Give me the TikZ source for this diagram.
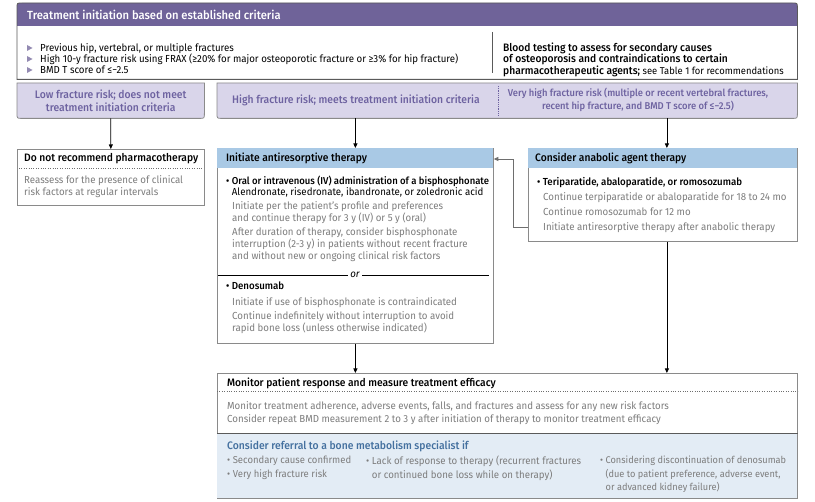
\documentclass[tikz,border=0pt]{standalone}
\usepackage{fontspec}
\setmainfont{Fira Sans}[FakeStretch=0.95]
\newfontfamily\medfont{Fira Sans Medium}[FakeStretch=0.95]
\usetikzlibrary{arrows.meta}
\definecolor{critpurple}{HTML}{6F6399}
\definecolor{critgray}{HTML}{5A5A5A}
\definecolor{riskfill}{HTML}{D9D5EA}
\definecolor{risktext}{HTML}{6D62A0}
\definecolor{boxgray}{HTML}{8A8A8A}
\definecolor{linegray}{HTML}{6E6E6E}
\definecolor{textgray}{HTML}{7D7D7D}
\definecolor{hdrblue}{HTML}{A9C9E5}
\definecolor{lightblue}{HTML}{E3ECF5}
\definecolor{referblue}{HTML}{44709F}

\begin{document}
\begin{tikzpicture}[x=1pt, y=-1pt,
    box/.style={anchor=north west, inner sep=0pt, draw=boxgray, fill=white, line width=0.8pt},
    body/.style={anchor=north west, inner sep=0pt, align=left, text=textgray, font=\fontsize{10.2}{12}\selectfont},
    dark/.style={body, text=black},
    head/.style={anchor=west, inner sep=0pt, font=\medfont\fontsize{10.8}{12}\selectfont},
    risk/.style={inner sep=0pt, text=risktext, font=\medfont\fontsize{10.9}{13}\selectfont},
    riskbox/.style={draw=boxgray, fill=riskfill, line width=0.8pt},
    tip/.style={-{Triangle[length=4.5pt, width=4pt]}, line width=0.8pt}
]
    \useasboundingbox[fill=white] (0,0) rectangle (815,502);

    \node[anchor=north west, inner sep=0pt, minimum width=780pt, minimum height=76pt] (crit) at (17,3) {};
    \fill[critpurple] ([yshift=-23pt]crit.north west) -- ([yshift=-5pt]crit.north west)
        .. controls (crit.north west) .. ([xshift=5pt]crit.north west)
        -- ([xshift=-5pt]crit.north east) .. controls (crit.north east) .. ([yshift=-5pt]crit.north east)
        -- ([yshift=-23pt]crit.north east) -- cycle;
    \draw[critgray, line width=0.8pt] (crit.south west) -- ([yshift=-5pt]crit.north west)
        .. controls (crit.north west) .. ([xshift=5pt]crit.north west)
        -- ([xshift=-5pt]crit.north east) .. controls (crit.north east) .. ([yshift=-5pt]crit.north east)
        -- (crit.south east) -- cycle;
    \node[head, text=white, font=\medfont\fontsize{11.8}{12}\selectfont] (crithead) at (27,14.5) {Treatment initiation based on established criteria};
    \foreach \y in {48,59,70}
        \fill[critpurple!75] (27,\y-3) -- (27,\y+3) -- (32.5,\y) -- cycle;
    \node[dark, font=\fontsize{10.2}{11}\selectfont] (critlist) at (40,43) {Previous hip, vertebral, or multiple fractures\\High 10-y fracture risk using FRAX (≥20\% for major osteoporotic fracture or ≥3\% for hip fracture)\\BMD T score of ≤−2.5};
    \draw[critgray, line width=0.8pt] (492,32) -- (492,73);
    \node[dark, font=\medfont\fontsize{10.8}{11.5}\selectfont] (blood) at (503,42.5) {Blood testing to assess for secondary causes\\of osteoporosis and contraindications to certain\\pharmacotherapeutic agents; {\normalfont\fontsize{9.9}{11}\selectfont see Table 1 for recommendations}};

    \node[anchor=north west, inner sep=0pt, minimum width=187pt, minimum height=35pt] (low) at (17,83) {};
    \node[anchor=north west, inner sep=0pt, minimum width=580pt, minimum height=35pt] (high) at (217,83) {};
    \draw[riskbox] (low.north west) -- (low.north east) -- ([yshift=5pt]low.south east)
        .. controls (low.south east) .. ([xshift=-5pt]low.south east)
        -- ([xshift=5pt]low.south west) .. controls (low.south west) .. ([yshift=5pt]low.south west) -- cycle;
    \draw[riskbox] (high.north west) -- (high.north east) -- ([yshift=5pt]high.south east)
        .. controls (high.south east) .. ([xshift=-5pt]high.south east)
        -- ([xshift=5pt]high.south west) .. controls (high.south west) .. ([yshift=5pt]high.south west) -- cycle;
    \draw[risktext, densely dotted, line width=0.8pt] (498,86) -- (498,116);
    \node[risk, align=center] (lowlbl) at (low.center) {Low fracture risk; does not meet\\treatment initiation criteria};
    \node[risk] (highlbl) at (356,100.5) {High fracture risk; meets treatment initiation criteria};
    \node[risk, align=center, font=\medfont\fontsize{9.9}{13}\selectfont] (vhighlbl) at (638,100) {Very high fracture risk (multiple or recent vertebral fractures,\\recent hip fracture, and BMD T score of ≤−2.5)};

    \node[box, minimum width=187pt, minimum height=56pt] (nopharm) at (17,149) {};
    \node[head] (nopharmhead) at (24,158.3) {Do not recommend pharmacotherapy};
    \draw[linegray, dotted] (19,168) -- (202,168);
    \node[body] (nopharmtext) at (24,175) {Reassess for the presence of clinical\\risk factors at regular intervals};

    \node[box, minimum width=276pt, minimum height=195pt] (antires) at (217,148) {};
    \fill[hdrblue] ([shift={(0.4pt,-0.4pt)}]antires.north west) rectangle ([shift={(-0.4pt,-20pt)}]antires.north east);
    \node[head] (antireshead) at (226,158.3) {Initiate antiresorptive therapy};
    \node[dark, font=\fontsize{10.2}{11}\selectfont] (bisph) at (226,176) {{\medfont\fontsize{10}{11}\selectfont •~Oral or intravenous (IV) administration of a bisphosphonate}\\\phantom{•~}Alendronate, risedronate, ibandronate, or zoledronic acid};
    \node[body] (bisphstart) at (232,201.5) {Initiate per the patient’s profile and preferences\\and continue therapy for 3 y (IV) or 5 y (oral)};
    \node[body] (bisphstop) at (232,227) {After duration of therapy, consider bisphosphonate\\interruption (2-3 y) in patients without recent fracture\\and without new or ongoing clinical risk factors};
    \draw[black, line width=0.6pt] (218,275) -- (489,275);
    \node[fill=white, inner sep=2pt, font=\itshape\fontsize{10.2}{12}\selectfont] (orlbl) at (355,274.5) {or};
    \node[dark] (deno) at (226,282) {\medfont •~Denosumab};
    \node[body] (denostart) at (232,297.5) {Initiate if use of bisphosphonate is contraindicated};
    \node[body] (denocont) at (232,311.5) {Continue indefinitely without interruption to avoid\\rapid bone loss (unless otherwise indicated)};

    \node[box, minimum width=269pt, minimum height=93pt] (anabolic) at (528,148) {};
    \fill[hdrblue] ([shift={(0.4pt,-0.4pt)}]anabolic.north west) rectangle ([shift={(-0.4pt,-20pt)}]anabolic.north east);
    \node[head] (anabolichead) at (535,158.3) {Consider anabolic agent therapy};
    \node[dark] (anaboliclist) at (537,177.5) {\medfont •~Teriparatide, abaloparatide, or romosozumab};
    \node[body, font=\fontsize{10.2}{14.8}\selectfont] (anabolicuse) at (543,192.7) {Continue terpiparatide or abaloparatide for 18 to 24 mo\\Continue romosozumab for 12 mo\\Initiate antiresorptive therapy after anabolic therapy};

    \node[box, minimum width=580pt, minimum height=125pt] (monitor) at (217,373) {};
    \fill[lightblue] ([shift={(0.4pt,-60pt)}]monitor.north west) rectangle ([shift={(-0.4pt,0.4pt)}]monitor.south east);
    \draw[critgray, line width=0.8pt] ([yshift=-60pt]monitor.north west) -- ([yshift=-60pt]monitor.north east);
    \draw[linegray, dotted] ([yshift=-18.7pt]monitor.north west) -- ([yshift=-18.7pt]monitor.north east);
    \node[head] (monitorhead) at (227,383.3) {Monitor patient response and measure treatment efficacy};
    \node[body, font=\fontsize{10.2}{12.6}\selectfont] (monitortext) at (227,401.5) {Monitor treatment adherence, adverse events, falls, and fractures and assess for any new risk factors\\Consider repeat BMD measurement 2 to 3 y after initiation of therapy to monitor treatment efficacy};
    \node[head, text=referblue, font=\medfont\fontsize{10.9}{12}\selectfont] (referhead) at (227,446.7) {Consider referral to a bone metabolism specialist if};
    \node[body, font=\fontsize{10}{13.5}\selectfont] (refercause) at (227,456) {•~Secondary cause confirmed\\•~Very high fracture risk};
    \node[body, font=\fontsize{10.2}{13.5}\selectfont] (referresp) at (366,456) {•~Lack of response to therapy (recurrent fractures\\\phantom{•~}or continued bone loss while on therapy)};
    \node[body, font=\fontsize{9.7}{13.5}\selectfont] (referdeno) at (600,456) {•~Considering discontinuation of denosumab\\\phantom{•~}(due to patient preference, adverse event,\\\phantom{•~}or advanced kidney failure)};

    \draw[tip] (low) -- (nopharm);
    \draw[tip] (antires.north |- high.south) -- (antires.north);
    \draw[tip] ([xshift=4pt]anabolic.north |- high.south) -- ([xshift=4pt]anabolic.north);
    \draw[tip] (antires.south) -- (antires.south |- monitor.north);
    \draw[tip] ([xshift=4pt]anabolic.south) -- ([xshift=4pt]anabolic.south |- monitor.north);
    \draw[tip, draw=linegray] ([yshift=14pt]anabolic.south west) -- ++(-15pt,0) |- ([yshift=-11pt]antires.north east);
\end{tikzpicture}
\end{document}
